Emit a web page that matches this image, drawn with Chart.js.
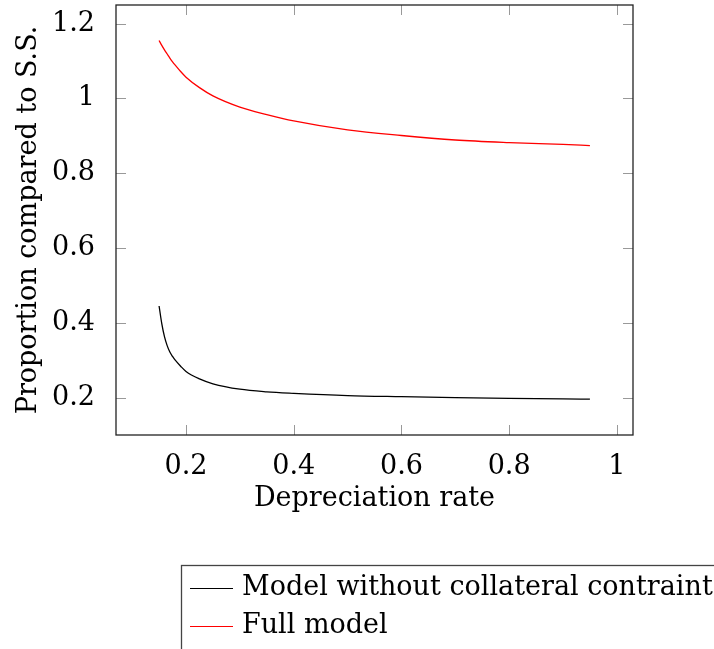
<!DOCTYPE html>
<html>
<head>
<meta charset="utf-8">
<script src="https://cdn.jsdelivr.net/npm/chart.js@4/dist/chart.umd.min.js"></script>
<style>
  html, body { margin: 0; padding: 0; background: #fff; }
  #c { display: block; }
</style>
</head>
<body>
<canvas id="c" width="714" height="649"></canvas>
<script>
// depreciation rate grid
const rates = [0.15, 0.155, 0.16, 0.165, 0.17, 0.175, 0.18, 0.19, 0.2, 0.225,
               0.25, 0.3, 0.35, 0.4, 0.5, 0.6, 0.7, 0.8, 0.9, 0.95];
// proportion compared to steady state
const noCollateral = [0.445, 0.398, 0.363, 0.339, 0.322, 0.310, 0.300, 0.284, 0.270, 0.250,
                      0.237, 0.2225, 0.2155, 0.2115, 0.2055, 0.2025, 0.200, 0.198, 0.1965, 0.196];
const fullModel = [1.155, 1.142, 1.130, 1.119, 1.108, 1.098, 1.089, 1.072, 1.057, 1.029,
                   1.007, 0.977, 0.957, 0.940, 0.916, 0.901, 0.889, 0.882, 0.877, 0.874];
const xTicks = [0.2, 0.4, 0.6, 0.8, 1];
const yTicks = [0.2, 0.4, 0.6, 0.8, 1, 1.2];

const FONT = "'DejaVu Serif', serif";
const FSIZE = 27;

function toPoints(ys) {
  return rates.map((x, i) => ({ x: x, y: ys[i] }));
}

// frame + inward tick marks on all four sides
const frame = {
  id: "frame",
  afterDraw(chart) {
    const { ctx, chartArea: a, scales } = chart;
    ctx.save();
    ctx.strokeStyle = "#999";
    ctx.lineWidth = 1;
    ctx.beginPath();
    scales.x.ticks.forEach(t => {
      const px = Math.round(scales.x.getPixelForValue(t.value)) + 0.5;
      ctx.moveTo(px, a.bottom); ctx.lineTo(px, a.bottom - 10);
      ctx.moveTo(px, a.top); ctx.lineTo(px, a.top + 10);
    });
    scales.y.ticks.forEach(t => {
      const py = Math.round(scales.y.getPixelForValue(t.value)) + 0.5;
      ctx.moveTo(a.left, py); ctx.lineTo(a.left + 10, py);
      ctx.moveTo(a.right, py); ctx.lineTo(a.right - 10, py);
    });
    ctx.stroke();
    ctx.strokeStyle = "#222";
    ctx.lineWidth = 1.3;
    ctx.strokeRect(a.left, a.top, a.right - a.left, a.bottom - a.top);
    ctx.restore();
  }
};

// boxed legend under the axis
const boxLegend = {
  id: "boxLegend",
  afterDraw(chart) {
    const ctx = chart.ctx;
    ctx.save();
    ctx.strokeStyle = "#444";
    ctx.lineWidth = 1.3;
    ctx.strokeRect(181.5, 565.5, 560, 120);
    ctx.font = FSIZE + "px " + FONT;
    ctx.textBaseline = "middle";
    ctx.fillStyle = "#000";
    chart.data.datasets.forEach((ds, i) => {
      const y = 588 + i * 38;
      ctx.strokeStyle = ds.borderColor;
      ctx.lineWidth = 1.2;
      ctx.beginPath();
      ctx.moveTo(190, y + 0.5);
      ctx.lineTo(233, y + 0.5);
      ctx.stroke();
      ctx.fillText(ds.label, 242, y);
    });
    ctx.restore();
  }
};

new Chart(document.getElementById("c"), {
  type: "line",
  data: {
    datasets: [
      {
        label: "Model without collateral contraint",
        data: toPoints(noCollateral),
        borderColor: "#000",
        borderWidth: 1.3,
        pointRadius: 0,
        cubicInterpolationMode: "monotone"
      },
      {
        label: "Full model",
        data: toPoints(fullModel),
        borderColor: "#ff0000",
        borderWidth: 1.3,
        pointRadius: 0,
        cubicInterpolationMode: "monotone"
      }
    ]
  },
  options: {
    responsive: false,
    animation: false,
    events: [],
    layout: { padding: { left: 0, top: 5, right: 81, bottom: 134 } },
    plugins: { legend: { display: false }, tooltip: { enabled: false } },
    scales: {
      x: {
        type: "linear",
        min: 0.07,
        max: 1.03,
        afterBuildTicks: s => { s.ticks = xTicks.map(v => ({ value: v })); },
        afterFit: s => { s.height = 80; s.paddingLeft = 0; s.paddingRight = 0; },
        grid: { display: false },
        border: { display: false },
        ticks: {
          padding: 8,
          color: "#000",
          font: { family: FONT, size: FSIZE },
          callback: v => String(v)
        },
        title: {
          display: true,
          text: "Depreciation rate",
          color: "#000",
          padding: { top: 0, bottom: 0 },
          font: { family: FONT, size: FSIZE }
        }
      },
      y: {
        type: "linear",
        min: 0.1,
        max: 1.25,
        afterBuildTicks: s => { s.ticks = yTicks.map(v => ({ value: v })); },
        afterFit: s => { s.width = 116; s.paddingTop = 0; s.paddingBottom = 0; },
        grid: { display: false },
        border: { display: false },
        ticks: {
          padding: 13,
          color: "#000",
          font: { family: FONT, size: FSIZE },
          callback: v => String(v)
        },
        title: {
          display: true,
          text: "Proportion compared to S.S.",
          color: "#000",
          padding: { top: 13, bottom: 0 },
          font: { family: FONT, size: FSIZE }
        }
      }
    }
  },
  plugins: [frame, boxLegend]
});
</script>
</body>
</html>
